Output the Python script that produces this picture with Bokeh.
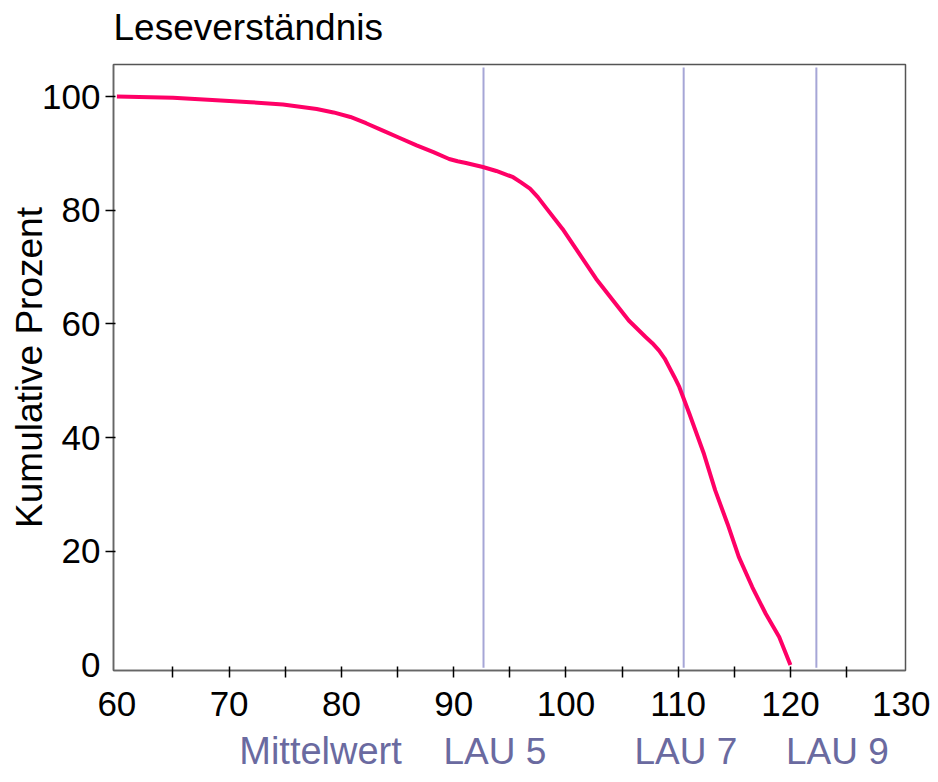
from bokeh.plotting import figure
from bokeh.models import Range1d, FixedTicker, ColumnDataSource
from bokeh.layouts import column
from bokeh.core.properties import value, field
from bokeh.embed import file_html
from bokeh.resources import INLINE

# Data
title_text = "Leseverständnis"
score = [60, 65, 68.5, 71.9, 74.8, 77.8, 79.3, 80.8, 82.2, 83.7, 85.2, 86.7, 88.2,
         89.6, 90.35, 91.1, 92.6, 93.8, 94.5, 95.3, 96.0, 96.8, 97.5, 98.2, 99.7,
         101.2, 102.7, 104.2, 105.6, 107.1, 107.7, 108.3, 108.8, 109.2, 109.65,
         110.1, 111.0, 112.3, 113.3, 114.4, 115.4, 116.6, 117.8, 119.0, 120.0]
cum_pct = [100, 99.8, 99.4, 99.0, 98.6, 97.8, 97.2, 96.4, 95.3, 94.0, 92.7, 91.4,
           90.2, 89.0, 88.6, 88.3, 87.6, 86.9, 86.4, 85.8, 84.9, 83.8, 82.3, 80.5,
           76.7, 72.3, 67.9, 64.1, 60.6, 57.7, 56.6, 55.3, 53.9, 52.4, 50.7, 48.9,
           44.2, 37.1, 30.7, 24.8, 19.0, 13.7, 9.0, 4.9, 0]

ref_values = [92.66, 110.49, 122.31]          # LAU 5, LAU 7, LAU 9 lines
caption_text = ["Mittelwert", "LAU 5", "LAU 7", "LAU 9"]
caption_x = [70.9, 89.1, 106.1, 119.6]        # left edge of each caption (score units)
caption_size = ["38px", "37px", "37px", "37px"]

x_ticks = [60, 70, 80, 90, 100, 110, 120, 130]
x_minor = [65, 70, 75, 80, 85, 90, 95, 100, 105, 110, 115, 120, 125]
y_ticks = [0, 20, 40, 60, 80, 100]
y_minor = [20, 40, 60, 80, 100]

FONT = "Liberation Sans"
W = 930
x_range = Range1d(59.70, 130.25)

# ---- title strip ----
pt = figure(width=W, height=56, output_backend="svg", toolbar_location=None,
            x_range=x_range, y_range=Range1d(-18, 38),
            x_axis_type=None, y_axis_type=None,
            min_border_left=113, min_border_right=25, min_border_top=0,
            min_border_bottom=0)
pt.outline_line_color = None
pt.text(x=[x_range.start], y=[11], text=[title_text], text_font=value(FONT),
        text_font_size="37px", text_color="black",
        text_baseline="alphabetic", text_align="left")

# ---- main plot ----
p = figure(width=W, height=675, output_backend="svg", toolbar_location=None,
           x_range=x_range, y_range=Range1d(-0.98, 105.63),
           min_border_left=113, min_border_right=25, min_border_top=8,
           min_border_bottom=61)
p.grid.visible = False
p.outline_line_color = "#555555"
p.outline_line_width = 1.5

xa = p.xaxis[0]
xa.ticker = FixedTicker(ticks=x_ticks, minor_ticks=x_minor)
xa.major_tick_in = 0
xa.major_tick_out = 0
xa.minor_tick_in = 4
xa.minor_tick_out = 7
xa.minor_tick_line_color = "black"
xa.minor_tick_line_width = 1.5
xa.axis_line_color = "#666666"
xa.axis_line_width = 1.5
xa.major_label_text_font = FONT
xa.major_label_text_font_size = "35px"
xa.major_label_text_color = "black"
xa.major_label_standoff = 14

ya = p.yaxis[0]
ya.ticker = FixedTicker(ticks=y_ticks, minor_ticks=y_minor)
ya.major_tick_in = 0
ya.major_tick_out = 0
ya.minor_tick_in = 2
ya.minor_tick_out = 8
ya.minor_tick_line_color = "black"
ya.minor_tick_line_width = 1.5
ya.axis_line_color = "#666666"
ya.axis_line_width = 1.5
ya.major_label_text_font = FONT
ya.major_label_text_font_size = "35px"
ya.major_label_text_color = "black"
ya.major_label_standoff = 5
ya.axis_label = "Kumulative Prozent"
ya.axis_label_text_font = FONT
ya.axis_label_text_font_size = "37px"
ya.axis_label_text_font_style = "normal"
ya.axis_label_text_color = "black"
ya.axis_label_standoff = -11

p.segment(x0=ref_values, y0=[-0.5] * 3, x1=ref_values, y1=[105.1] * 3,
          line_color="#a6a6d6", line_width=2)
p.line(score, cum_pct, line_color="#ff0066", line_width=4, line_join="round")

# ---- caption strip under the x axis ----
pc = figure(width=W, height=35, output_backend="svg", toolbar_location=None,
            x_range=x_range, y_range=Range1d(0, 35),
            x_axis_type=None, y_axis_type=None,
            min_border_left=113, min_border_right=25, min_border_top=0,
            min_border_bottom=0)
pc.outline_line_color = None
src = ColumnDataSource(dict(x=caption_x, y=[15.5] * len(caption_x),
                            t=caption_text, fs=caption_size))
pc.text(x="x", y="y", text="t", source=src, text_font=value(FONT),
        text_font_size=field("fs"), text_color="#6a6aa0",
        text_baseline="alphabetic", text_align="left")

layout = column(pt, p, pc, spacing=0)
open("out.html", "w").write(file_html(layout, INLINE))
